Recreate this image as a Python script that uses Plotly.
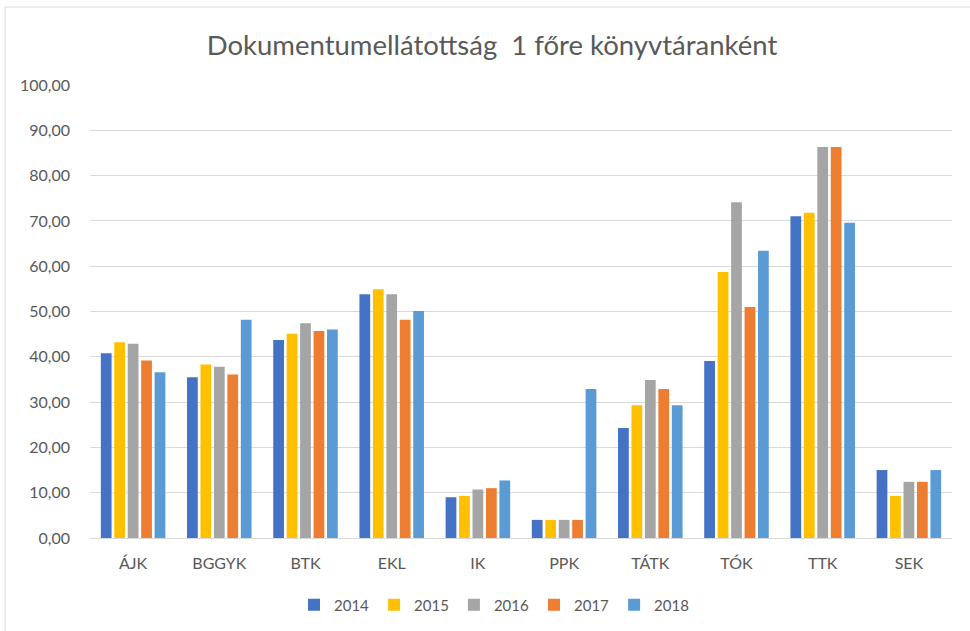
import plotly.graph_objects as go

categories = ["ÁJK", "BGGYK", "BTK", "EKL", "IK", "PPK", "TÁTK", "TÓK", "TTK", "SEK"]
years = ["2014", "2015", "2016", "2017", "2018"]
v2014 = [40.8, 35.5, 43.7, 53.8, 9.0, 4.0, 24.3, 39.1, 71.0, 15.0]
v2015 = [43.2, 38.3, 45.1, 54.9, 9.3, 4.0, 29.3, 58.7, 71.8, 9.3]
v2016 = [42.9, 37.8, 47.4, 53.8, 10.7, 4.0, 34.9, 74.1, 86.3, 12.4]
v2017 = [39.2, 36.1, 45.7, 48.2, 11.0, 4.0, 32.9, 51.0, 86.3, 12.4]
v2018 = [36.6, 48.2, 46.0, 50.1, 12.7, 32.9, 29.3, 63.4, 69.6, 15.0]
series = [v2014, v2015, v2016, v2017, v2018]
colors = ["#4472C4", "#FFC000", "#A5A5A5", "#ED7D31", "#5B9BD5"]
yticks = [0, 10, 20, 30, 40, 50, 60, 70, 80, 90, 100]

W, H = 970, 631
ml, mr, mt, mb = 90, W - 952, 85, H - 538
pw, ph = W - ml - mr, H - mt - mb

fig = go.Figure()
for name, vals, c in zip(years, series, colors):
    fig.add_trace(go.Bar(x=categories, y=vals, name=name, marker=dict(color=c, line=dict(width=0))))

def px2x(px):
    return (px - ml) / pw

def py2y(py):
    return (H - mb - py) / ph

FONT = "Lato, Open Sans, sans-serif"
fig.update_layout(
    width=W, height=H,
    margin=dict(l=ml, r=mr, t=mt, b=mb, autoexpand=False),
    paper_bgcolor="white", plot_bgcolor="white",
    separators=",.",
    font=dict(family=FONT, color="#595959", size=16),
    title=dict(text="Dokumentumellátottság  1 főre könyvtáranként", x=492 / W, xanchor="center",
               xref="container", y=1 - 45 / H, yref="container", yanchor="middle",
               font=dict(size=27.5, color="#595959")),
    barmode="group", bargap=0.22, bargroupgap=0.2,
    showlegend=True,
    legend=dict(orientation="h", x=px2x(494), xanchor="center", y=py2y(605), yanchor="middle",
                font=dict(size=15, color="#595959"), traceorder="normal", itemwidth=30),
    xaxis=dict(showgrid=False, showline=True, linecolor="#D9D9D9", linewidth=1, ticks="",
               tickfont=dict(size=16, color="#595959"), ticklabelstandoff=11),
    yaxis=dict(range=[0, 100], tickvals=yticks, tickformat=".2f", showgrid=True,
               gridcolor="#D9D9D9", gridwidth=1, zeroline=False, showline=False,
               tickfont=dict(size=16, color="#595959"), ticklabelstandoff=19),
    shapes=[dict(type="rect", xref="paper", yref="paper",
                 x0=px2x(5), x1=px2x(W + 20), y0=py2y(H + 20), y1=py2y(7),
                 line=dict(color="#D9D9D9", width=1), fillcolor="rgba(0,0,0,0)", layer="below")],
)

fig.write_html("out.html", config={"displayModeBar": False},
               post_script="document.body.style.margin='0px';")
